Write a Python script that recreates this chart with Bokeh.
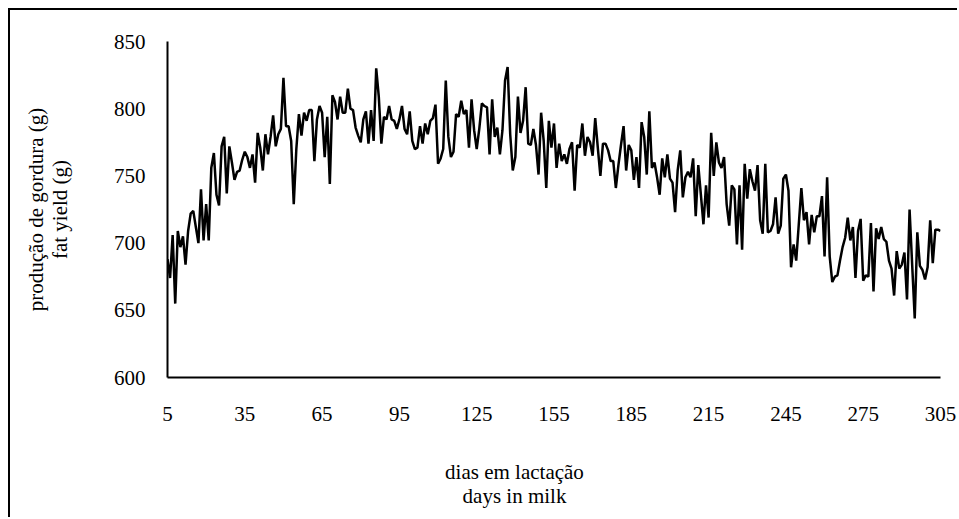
from bokeh.plotting import figure
from bokeh.models import Range1d, FixedTicker, LinearAxis
from bokeh.embed import file_html
from bokeh.resources import INLINE

# ---- data ----
days = list(range(5, 306))

fat_yield_a = [688, 674, 706, 655, 709, 697, 705, 684, 709, 722,
               724, 712, 700, 740, 702, 729, 702, 756, 767, 736,
               728, 772, 779, 737, 772, 760, 747, 753, 754, 762,
               768, 764, 756, 766, 745, 782, 771, 754, 781, 766,
               779, 795, 772, 781, 785, 823]
fat_yield_b = [787, 787, 776, 729, 770, 796, 780, 797, 791, 799,
               799, 761, 792, 802, 797, 764, 794, 744, 810, 805,
               792, 809, 797, 797, 815, 800, 799, 786, 780, 775,
               792, 798, 774, 799, 776, 830, 809, 774, 794, 792,
               802, 792, 791, 785, 792, 802, 785, 781, 798, 776,
               770, 771]
fat_yield_c = [787, 774, 789, 781, 791, 793, 803, 759, 763, 770,
               821, 779, 764, 768, 796, 794, 806, 796, 799, 771,
               807, 784, 770, 785, 804, 802, 801, 766, 807, 779,
               786, 766, 784, 821, 831, 781, 754, 764, 809, 782,
               791, 816, 774, 773, 785, 773, 751, 797]
fat_yield_d = [776, 741, 791, 771, 789, 756, 774, 761, 766, 759,
               770, 775, 739, 773, 771, 789, 765, 779, 775, 765,
               793, 771, 750, 774, 774, 769, 761, 761, 741, 758,
               773, 787, 754, 773, 769, 747, 764, 741, 790, 779,
               751, 798, 756, 760, 749, 736, 763, 749, 766]
fat_yield_e = [748, 745, 723, 754, 769, 734, 749, 753, 749, 763,
               720, 758, 736, 714, 743, 719, 782, 750, 775, 760,
               756, 764, 729, 713, 743, 740, 699, 743, 695, 759,
               733, 755, 746, 739, 758, 717, 707, 759, 708, 709,
               714, 734, 707, 713, 748, 751, 739]
fat_yield_f = [682, 699, 687, 714, 741, 717, 723, 699, 721, 708,
               720, 720, 735, 690, 749, 690, 671, 675, 676, 687,
               697, 704, 719, 702, 712, 674, 709, 718, 672, 676,
               675, 715, 664, 711, 703, 712, 703, 701, 687, 681,
               661, 694, 681, 684, 693, 658, 725, 684, 644, 708,
               683, 680, 673, 682, 717, 685, 710, 710, 709]
fat_yield = fat_yield_a + fat_yield_b + fat_yield_c + fat_yield_d + fat_yield_e + fat_yield_f

x_ticks = [5, 35, 65, 95, 125, 155, 185, 215, 245, 275, 305]
y_ticks = [600, 650, 700, 750, 800, 850]
y_title = "produção de gordura (g)\nfat yield (g)"
x_title = "dias em lactação\ndays in milk"

FONT = "Liberation Serif"
FS = "21px"

p = figure(width=949, height=509, output_backend="svg", toolbar_location=None,
           x_range=Range1d(5, 305), y_range=Range1d(600, 850),
           min_border_left=157, min_border_right=19, min_border_top=31,
           min_border_bottom=142)
p.styles = {"border-left": "2px solid black", "border-top": "2px solid black",
            "margin-left": "8px", "margin-top": "8px"}
p.background_fill_color = "white"
p.border_fill_color = "white"
p.outline_line_color = None
p.xgrid.visible = False
p.ygrid.visible = False

for ax in (p.xaxis, p.yaxis):
    ax.axis_line_color = "black"
    ax.axis_line_width = 2
    ax.major_tick_line_color = None
    ax.minor_tick_line_color = None
    ax.major_tick_out = 0
    ax.major_tick_in = 0
    ax.minor_tick_out = 0
    ax.minor_tick_in = 0
    ax.major_label_text_font = FONT
    ax.major_label_text_font_size = FS
    ax.major_label_text_color = "black"

p.xaxis.ticker = FixedTicker(ticks=x_ticks)
p.yaxis.ticker = FixedTicker(ticks=y_ticks)
p.xaxis.major_label_standoff = 29
p.yaxis.major_label_standoff = 22

p.yaxis.axis_label = y_title
p.yaxis.axis_label_text_font = FONT
p.yaxis.axis_label_text_font_size = FS
p.yaxis.axis_label_text_font_style = "normal"
p.yaxis.axis_label_text_color = "black"
p.yaxis.axis_label_text_line_height = 1.0
p.yaxis.axis_label_standoff = 39

p.line(days, fat_yield, line_color="black", line_width=2.5)

# x title: one centred label on a bare helper axis (pixel-like range across the frame),
# so that it sits left of the frame centre as in the reference
p.extra_x_ranges = {"title": Range1d(0, 773)}
title_axis = LinearAxis(x_range_name="title", ticker=FixedTicker(ticks=[347]),
                        major_label_overrides={347: x_title},
                        axis_line_color=None, major_tick_line_color=None,
                        minor_tick_line_color=None, major_tick_out=0, major_tick_in=0,
                        minor_tick_out=0, minor_tick_in=0, major_label_standoff=36,
                        major_label_text_font=FONT, major_label_text_font_size=FS,
                        major_label_text_color="black",
                        major_label_text_line_height=1.03)
p.add_layout(title_axis, "below")

open("out.html", "w").write(file_html(p, INLINE))
